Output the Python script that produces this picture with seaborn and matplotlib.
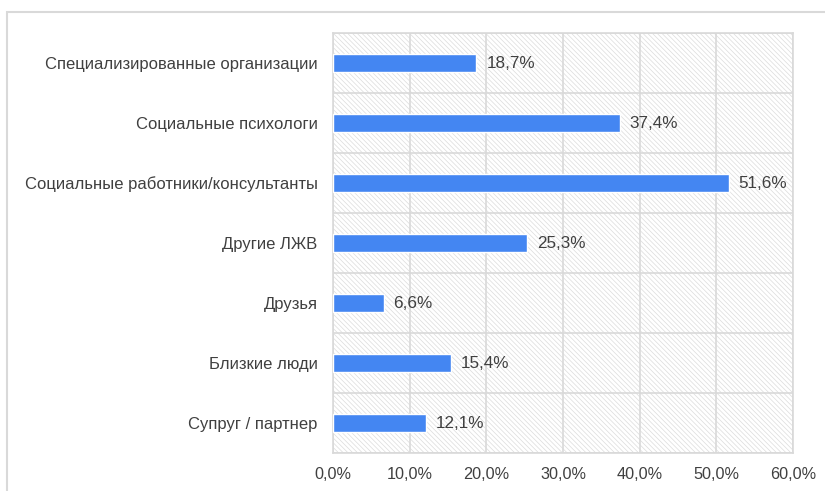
import matplotlib
matplotlib.use("Agg")
import matplotlib.pyplot as plt
import matplotlib.patches as mpatches
import matplotlib.ticker as mticker
import numpy as np
import seaborn as sns

categories = [
    "Специализированные организации",
    "Социальные психологи",
    "Социальные работники/консультанты",
    "Другие ЛЖВ",
    "Друзья",
    "Близкие люди",
    "Супруг / партнер",
]
values = [18.7, 37.4, 51.6, 25.3, 6.6, 15.4, 12.1]
x_ticks = [0, 10, 20, 30, 40, 50, 60]

sns.set_style("white")
plt.rcParams["font.family"] = ["Liberation Sans", "DejaVu Sans"]
plt.rcParams["hatch.linewidth"] = 0.5
plt.rcParams["hatch.color"] = "#dcdcdc"

grid_col = "#d9d9d9"
text_col = "#404040"

fig = plt.figure(figsize=(8.25, 4.91), dpi=100)
ax = fig.add_axes([333 / 825, 1 - 453 / 491, 460 / 825, 420 / 491])

# outer chart frame (partially off-canvas like the screenshot)
fig.patches.append(mpatches.Rectangle(
    (7 / 825, -0.05), 1.2, 1 - 12 / 491 + 0.05,
    transform=fig.transFigure, fill=False, edgecolor=grid_col, linewidth=1.5))

# hatched plot background
ax.add_patch(mpatches.Rectangle(
    (0, 0), 1, 1, transform=ax.transAxes, facecolor="white",
    edgecolor="#dcdcdc", hatch="\\" * 7, linewidth=0, zorder=0))

sns.barplot(x=values, y=categories, orient="h", color="#4486F2",
            width=0.3, saturation=1, ax=ax, zorder=3)

for i, v in enumerate(values):
    ax.text(v + 1.3, i, f"{v:.1f}%".replace(".", ","), va="center",
            ha="left", fontsize=12.3, color=text_col, zorder=4)

ax.set_xlim(0, 60)
ax.set_ylim(len(categories) - 0.5, -0.5)
ax.set_xticks(x_ticks)
ax.xaxis.set_major_formatter(mticker.FuncFormatter(
    lambda x, p: f"{x:.1f}%".replace(".", ",")))
ax.set_yticks(np.arange(len(categories)))
ax.set_yticks(np.arange(-0.5, len(categories), 1), minor=True)
ax.set_xlabel("")
ax.set_ylabel("")

ax.grid(axis="x", which="major", color=grid_col, linewidth=1.2, zorder=1)
ax.grid(axis="y", which="minor", color=grid_col, linewidth=1.2, zorder=1)
ax.grid(axis="y", which="major", visible=False)
ax.set_axisbelow(True)

for s in ax.spines.values():
    s.set_color(grid_col)
    s.set_linewidth(1.2)

ax.tick_params(axis="y", which="major", length=0, pad=11,
               labelsize=12, labelcolor=text_col)
ax.tick_params(axis="y", which="minor", length=5, color=grid_col, width=1.2)
ax.tick_params(axis="x", which="major", length=0, pad=10,
               labelsize=11.7, labelcolor=text_col)

fig.savefig("out.png", dpi=100)
